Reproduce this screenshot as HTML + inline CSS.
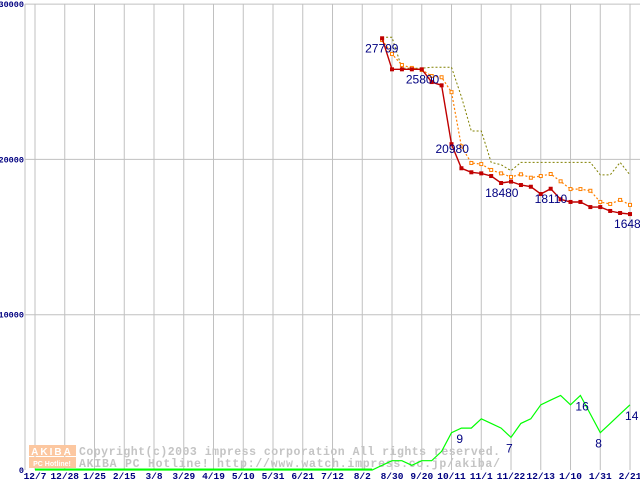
<!DOCTYPE html>
<html><head><meta charset="utf-8"><style>
html,body{margin:0;padding:0;background:#fff;width:640px;height:480px;overflow:hidden}
svg{display:block}
</style></head><body>
<svg id="chart" width="640" height="480" xmlns="http://www.w3.org/2000/svg">
<rect width="640" height="480" fill="#fff"/>
<g id="grid"></g>
<g id="wm">
  <rect x="29" y="445" width="47" height="11" fill="#fcc7a0"/>
  <rect x="29" y="457" width="47" height="11" fill="#fcc7a0"/>
  <text x="52" y="455" font-family="Liberation Sans, sans-serif" font-weight="bold" font-size="10" fill="#fff" text-anchor="middle" letter-spacing="2">AKIBA</text>
  <text x="52" y="466" font-family="Liberation Sans, sans-serif" font-weight="bold" font-size="7" fill="#fff" text-anchor="middle">PC Hotline!</text>
  <text x="79" y="455" font-family="Liberation Mono, monospace" font-weight="bold" font-size="11.5" fill="#c4c4c4" textLength="421">Copyright(c)2003 impress corporation All rights reserved.</text>
  <text x="79" y="467" font-family="Liberation Mono, monospace" font-weight="bold" font-size="11.5" fill="#c4c4c4" textLength="421">AKIBA PC Hotline!  http://www.watch.impress.co.jp/akiba/</text>
</g>
<g id="series"></g>
<g id="axes"></g>
</svg>
<script>
const xLabels=["12/7","12/28","1/25","2/15","3/8","3/29","4/19","5/10","5/31","6/21","7/12","8/2","8/30","9/20","10/11","11/1","11/22","12/13","1/10","1/31","2/21"];
const yTicks=[0,10000,20000,30000];
const redStart=35;
const redValues=[27799,25800,25800,25800,25800,24980,24770,20980,19430,19170,19100,18930,18480,18570,18350,18240,17770,18110,17430,17260,17260,16930,16930,16680,16550,16480];
const orangeStart=35;
const orangeValues=[27690,26790,26080,25890,25760,25370,25290,24330,20840,19770,19700,19320,19100,18870,19040,18820,18930,19060,18590,18090,18090,17980,17260,17130,17390,17070];
const oliveStart=35;
const oliveValues=[27860,27860,25870,25870,25870,25930,25930,25930,24040,21830,21830,19810,19660,19270,19810,19810,19810,19810,19810,19810,19810,19810,19000,19000,19810,19000];
const greenValues=[0,0,0,0,0,0,0,0,0,0,0,0,0,0,0,0,0,0,0,0,0,0,0,0,0,0,0,0,0,0,0,0,0,0,0,1,2,2,1,2,2,4,8,9,9,11,10,9,7,10,11,14,15,16,14,16,12,8,10,12,14];
const greenScale=300;
const redLabels=[[0,"27799"],[3,"25800"],[7,"20980"],[12,"18480"],[17,"18110"],[25,"16480"]];
const greenLabels=[[43,"9"],[48,"7"],[55,"16"],[57,"8"],[60,"14"]];

const NS="http://www.w3.org/2000/svg";
const X=w=>35+w*9.917;
const Y=v=>470-v*0.01553;
function mk(tag,attrs,parent,text){const e=document.createElementNS(NS,tag);for(const k in attrs)e.setAttribute(k,attrs[k]);if(text!==undefined)e.textContent=text;parent.appendChild(e);return e;}
const grid=document.getElementById('grid'),series=document.getElementById('series'),axes=document.getElementById('axes');
let gl=mk('line',{x1:25,y1:4,x2:25,y2:470,stroke:'#c0c0c0','stroke-width':1},grid);


xLabels.forEach((l,i)=>{
  const x=X(i*3);
  const ln=mk('line',{x1:x,y1:4,x2:x,y2:470,stroke:'#c0c0c0','stroke-width':1},grid);
  
  
  const t=mk('text',{x:x,y:479,'text-anchor':'middle','font-family':'Liberation Mono, monospace','font-size':9.5,'font-weight':'bold',fill:'#000080'},axes,l);
  
  
});
yTicks.forEach(v=>{
  const y=Y(v);
  if(v>0){const ln=mk('line',{x1:25,y1:y,x2:640,y2:y,stroke:'#c0c0c0','stroke-width':1},grid);
  
  }
  const t=mk('text',{x:24,y:y+3,'text-anchor':'end','font-family':'Liberation Mono, monospace','font-size':8.5,'font-weight':'bold',fill:'#000080'},axes,String(v));
  
  
});
function pts(start,vals,scale){return vals.map((v,i)=>X(start+i).toFixed(1)+','+Y(v*scale).toFixed(1)).join(' ');}
let g=mk('polyline',{points:pts(0,greenValues,greenScale),fill:'none',stroke:'#00ff00','stroke-width':1.2},series);


let g0=mk('line',{x1:X(0),y1:469.5,x2:X(34),y2:469.5,stroke:'#00ff00','stroke-width':2},series);


let o=mk('polyline',{points:pts(oliveStart,oliveValues,1),fill:'none',stroke:'#808000','stroke-width':1,'stroke-dasharray':'2,2'},series);


let or=mk('polyline',{points:pts(orangeStart,orangeValues,1),fill:'none',stroke:'#ff8000','stroke-width':1.2,'stroke-dasharray':'2,2'},series);


orangeValues.forEach((v,i)=>{const r=mk('rect',{x:X(orangeStart+i)-1.5,y:Y(v)-1.5,width:3,height:3,fill:'#fff',stroke:'#ff8000','stroke-width':1},series);

});
let rd=mk('polyline',{points:pts(redStart,redValues,1),fill:'none',stroke:'#c00000','stroke-width':1.4},series);


redValues.forEach((v,i)=>{const r=mk('rect',{x:X(redStart+i)-2,y:Y(v)-2,width:4,height:4,fill:'#c00000'},series);

});
redLabels.forEach(([i,t])=>{const v=redValues[i];const x=X(redStart+i);
  const dy=(i===7)?9:14;
  const dx=(i===0)?-17:(i===3?-6:-16);
  const e=mk('text',{x:x+dx,y:Y(v)+dy,'font-family':'Liberation Sans, sans-serif','font-size':12,fill:'#000080'},axes,t);
  
  });
greenLabels.forEach(([i,t])=>{const v=greenValues[i];const x=X(i);
  const e=mk('text',{x:x-5,y:Y(v*greenScale)+15,'font-family':'Liberation Sans, sans-serif','font-size':12,fill:'#000080'},axes,t);
  
  });
</script>
</body></html>
